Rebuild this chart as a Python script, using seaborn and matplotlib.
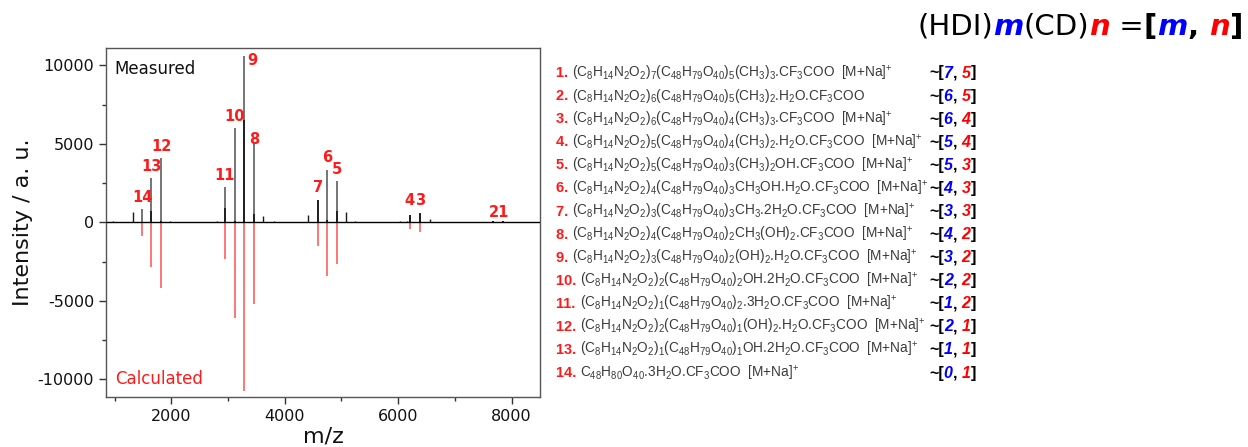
import matplotlib
matplotlib.use("Agg")
import matplotlib.pyplot as plt
import seaborn as sns
import numpy as np
import pandas as pd
from matplotlib.ticker import MultipleLocator
from matplotlib.offsetbox import TextArea, HPacker, AnnotationBbox

# ---------------- data ----------------
peak_ids = [14, 13, 12, 11, 10, 9, 8, 7, 6, 5, 4, 3, 2, 1]
peak_mz = [1489, 1650, 1820, 2945, 3120, 3282, 3455, 4583, 4750, 4920, 6215, 6380, 7665, 7850]
measured = [870, 2800, 4090, 2250, 6020, 10570, 5060, 1420, 3330, 2630, 445, 570, 60, 90]
measured_core = [0, 700, 100, 900, 100, 6500, 500, 1420, 150, 700, 445, 570, 60, 90]
calculated = [-880, -2850, -4180, -2320, -6115, -10750, -5210, -1480, -3410, -2640, -450, -640, -40, -60]
peak_labels = ["14", "13", "12", "11", "10", "9", "8", "7", "6", "5", "4", "3", "21", ""]

minor_mz = [970, 1147, 1323, 1972, 2400, 2600, 2800, 3620, 3810, 4290, 4415, 5081, 5240,
            6035, 6160, 6553, 6750, 6950, 7150, 7350, 7550, 8050, 8250, 8450]
minor_h = [60, 50, 680, 100, 30, 40, 60, 430, 60, 50, 490, 680, 60,
           80, 60, 210, 40, 40, 40, 40, 40, 40, 40, 40]

formula_nums = ["1.", "2.", "3.", "4.", "5.", "6.", "7.", "8.", "9.", "10.", "11.", "12.", "13.", "14."]
formulas = [
    "(C8H14N2O2)7(C48H79O40)5(CH3)3.CF3COO  [M+Na]+",
    "(C8H14N2O2)6(C48H79O40)5(CH3)2.H2O.CF3COO",
    "(C8H14N2O2)6(C48H79O40)4(CH3)3.CF3COO  [M+Na]+",
    "(C8H14N2O2)5(C48H79O40)4(CH3)2.H2O.CF3COO  [M+Na]+",
    "(C8H14N2O2)5(C48H79O40)3(CH3)2OH.CF3COO  [M+Na]+",
    "(C8H14N2O2)4(C48H79O40)3CH3OH.H2O.CF3COO  [M+Na]+",
    "(C8H14N2O2)3(C48H79O40)3CH3.2H2O.CF3COO  [M+Na]+",
    "(C8H14N2O2)4(C48H79O40)2CH3(OH)2.CF3COO  [M+Na]+",
    "(C8H14N2O2)3(C48H79O40)2(OH)2.H2O.CF3COO  [M+Na]+",
    "(C8H14N2O2)2(C48H79O40)2OH.2H2O.CF3COO  [M+Na]+",
    "(C8H14N2O2)1(C48H79O40)2.3H2O.CF3COO  [M+Na]+",
    "(C8H14N2O2)2(C48H79O40)1(OH)2.H2O.CF3COO  [M+Na]+",
    "(C8H14N2O2)1(C48H79O40)1OH.2H2O.CF3COO  [M+Na]+",
    "C48H80O40.3H2O.CF3COO  [M+Na]+",
]
m_values = ["7", "6", "6", "5", "5", "4", "3", "4", "3", "2", "1", "2", "1", "0"]
n_values = ["5", "5", "4", "4", "3", "3", "3", "2", "2", "2", "2", "1", "1", "1"]

# label offsets (pixels) relative to peak top
label_offsets = {"9": (8.7, -4.6), "8": (0, 3.5), "4": (-1, 14.6), "3": (0.7, 13.3),
                 "21": (6, 9), "7": (0.6, 12.7), "6": (0, 12.3), "5": (0.3, 12)}

# ---------------- style ----------------
sns.set_theme(style="ticks")
plt.rcParams["font.family"] = ["DejaVu Sans"]
plt.rcParams["axes.unicode_minus"] = False
plt.rcParams["mathtext.fontset"] = "custom"
plt.rcParams["mathtext.rm"] = "Liberation Sans"
plt.rcParams["mathtext.it"] = "Liberation Sans:italic"
plt.rcParams["mathtext.bf"] = "Liberation Sans:bold"

W, H = 1248, 447
fig = plt.figure(figsize=(W / 100, H / 100), dpi=100)
ax = fig.add_axes([106 / W, 1 - 396.7 / H, (540 - 106) / W, (396.7 - 48) / H])

GREY = "#6a6a6a"
DARK = "#1a1a1a"
RED_LINE = "#ff6b6b"
RED = "#ff1a1a"

df = pd.DataFrame({"mz": peak_mz, "measured": measured, "core": measured_core,
                   "calculated": calculated, "label": peak_labels})
dmin = pd.DataFrame({"mz": minor_mz, "h": minor_h})

ax.vlines(dmin["mz"], 0, dmin["h"], color=DARK, lw=1.0, zorder=2)
ax.vlines(df["mz"], 0, df["measured"], color=GREY, lw=1.3, zorder=2)
ax.vlines(df["mz"], 0, df["core"], color=DARK, lw=1.3, zorder=3)
ax.vlines(df["mz"], 0, df["calculated"], color=RED_LINE, lw=1.3, zorder=2)

base = pd.DataFrame({"mz": [850, 8500], "y": [0, 0]})
sns.lineplot(data=base, x="mz", y="y", color="black", lw=1.0, ax=ax, zorder=4)

for _, r in df.iterrows():
    if not r["label"]:
        continue
    dx, dy = label_offsets.get(r["label"], (0, 11.5))
    ax.annotate(r["label"], (r["mz"], r["measured"]), xytext=(dx, dy),
                textcoords="offset pixels", ha="center", va="center",
                color=RED, fontsize=10.5, fontweight="bold", zorder=5)

ax.set_xlim(850, 8500)
ax.set_ylim(-11100, 11100)
ax.xaxis.set_major_locator(MultipleLocator(2000))
ax.xaxis.set_minor_locator(MultipleLocator(1000))
ax.yaxis.set_major_locator(MultipleLocator(5000))
ax.yaxis.set_minor_locator(MultipleLocator(2500))
ax.tick_params(which="both", direction="out", colors="#333333", labelcolor="#111111")
ax.tick_params(which="major", length=5, width=1, labelsize=11.5)
ax.tick_params(which="minor", length=3, width=1)
for s in ax.spines.values():
    s.set_color("#555555")
    s.set_linewidth(1.0)
ax.set_xlabel("m/z", fontsize=16, color="#111111")
ax.set_ylabel("Intensity / a. u.", fontsize=16, color="#111111")
ax.xaxis.set_label_coords(0.5, -0.085)
ax.yaxis.set_label_coords(-0.168, 0.5)

ax.text(0.02, 0.965, "Measured", transform=ax.transAxes, ha="left", va="top",
        fontsize=12, color="#111111")
ax.text(0.02, 0.025, "Calculated", transform=ax.transAxes, ha="left", va="bottom",
        fontsize=12, color=RED)


# ---------------- right-hand text ----------------
def chem(s):
    out = ""
    i = 0
    while i < len(s):
        c = s[i]
        if c.isdigit() and i > 0 and (s[i - 1].isalpha() or s[i - 1] == ")"):
            j = i
            while j < len(s) and s[j].isdigit():
                j += 1
            out += "$_{%s}$" % s[i:j]
            i = j
            continue
        if c == "+" and i > 0 and s[i - 1] == "]":
            out += "$^{+}$"
            i += 1
            continue
        out += c
        i += 1
    return out


def rich(parts, x, y, ha=0.0):
    children = []
    for txt, props in parts:
        children.append(TextArea(txt, textprops=props))
    box = HPacker(children=children, align="baseline", pad=0, sep=0)
    ab = AnnotationBbox(box, (x, H - y), xycoords="figure pixels",
                        box_alignment=(ha, 0.5), frameon=False, pad=0)
    fig.add_artist(ab)


LS = "Liberation Sans"
FS = 9.8
BFS = 11.5
for k, (num, f) in enumerate(zip(formula_nums, formulas)):
    y = 73 + k * 23.08
    rich([(num + " ", dict(color=RED, fontsize=10.5, fontweight="bold", family=LS)),
          (chem(f), dict(color="#3a3a3a", fontsize=FS, family=LS))], 556, y)
    bold = dict(color="black", fontsize=BFS, fontweight="bold", family=LS)
    rich([("~[", bold),
          (m_values[k], dict(color="#0000ff", fontsize=BFS, fontweight="bold",
                             fontstyle="italic", family=LS)),
          (", ", bold),
          (n_values[k], dict(color="#ff0000", fontsize=BFS, fontweight="bold",
                             fontstyle="italic", family=LS)),
          ("]", bold)], 929, y)

TFS = 21
reg = dict(color="black", fontsize=TFS)
bb = dict(color="black", fontsize=TFS, fontweight="bold")
bm = dict(color="#0000ff", fontsize=TFS, fontweight="bold", fontstyle="italic")
rn = dict(color="#ff0000", fontsize=TFS, fontweight="bold", fontstyle="italic")
rich([("(HDI)", reg), ("m", bm), ("(CD)", reg), ("n", rn), (" =", reg), ("[", bb),
      ("m", bm), (", ", bb), ("n", rn), ("]", bb)], 1243, 27, ha=1.0)

fig.savefig("out.png", dpi=100)
